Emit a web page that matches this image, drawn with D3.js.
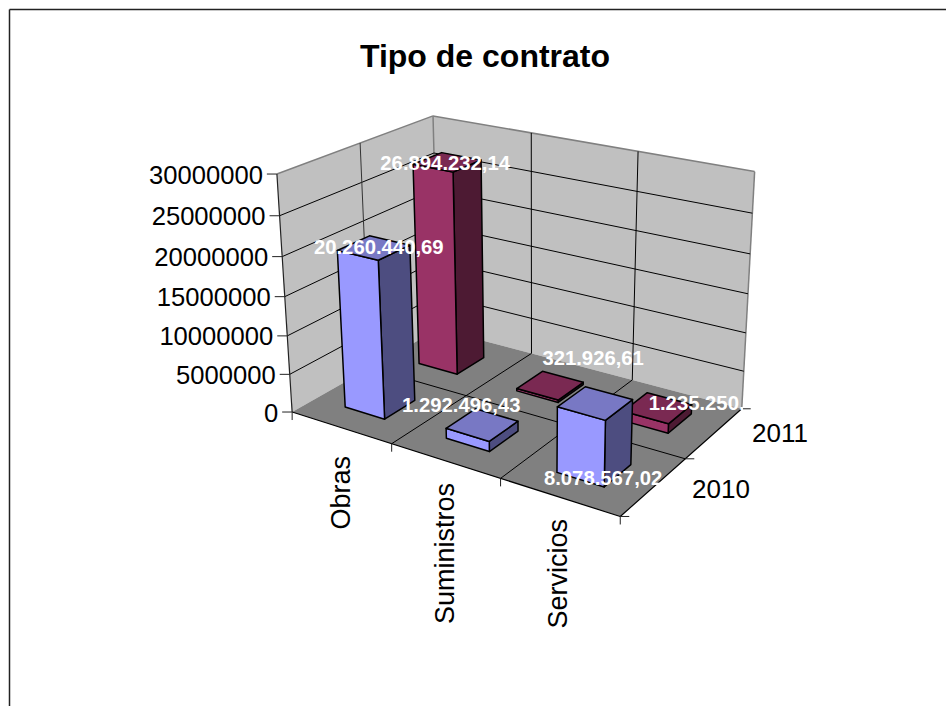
<!DOCTYPE html>
<html><head><meta charset="utf-8">
<script src="https://cdn.jsdelivr.net/npm/d3@7/dist/d3.min.js"></script>
<style>html,body{margin:0;padding:0;background:#fff}svg{display:block}text{font-family:"Liberation Sans",Arial,sans-serif}</style>
</head><body><svg id="c" width="946" height="706"></svg>
<script>
const categories = ["Obras","Suministros","Servicios"];
const years = ["2010","2011"];
const values2010 = [20260440.69, 1292496.43, 8078567.02];
const values2011 = [26894232.14, 321926.61, 1235250];
const labels2010 = ["20.260.440,69","1.292.496,43","8.078.567,02"];
const labels2011 = ["26.894.232,14","321.926,61","1.235.250,"];
const yTicks = [0,5000000,10000000,15000000,20000000,25000000,30000000];

// label shift from bar-top centre, in pixels
const labelDx2010 = [5,-21,8], labelDy2010 = [-1,-20,75];
const labelDx2011 = [-2,43,39], labelDy2011 = [1,-27,-5];

const colors2010 = {front:"#9999FF", top:"#7878C4", side:"#4D4D80"};
const colors2011 = {front:"#993366", top:"#7A2952", side:"#4D1A33"};

const svg = d3.select("#c");
const band = d3.scaleBand().domain(categories).range([0,1]).paddingInner(0.6).paddingOuter(0.3);
const depth = d3.scaleBand().domain(years).range([0,1]).paddingInner(0.6).paddingOuter(0.3);
const yS = d3.scaleLinear().domain([0,30000000]).range([0,1]);

// camera: least-squares fit of the projective map from the plot box to the page
const anchors = [
 [0,0,0,293,412],[1,0,0,619,516],[1,1,0,740,409],[0,1,0,438,329],
 [0,0,1,277,174],[0,1,1,433,115],[1,1,1,755,172],
 [1/3,0,0,392,445],[2/3,0,0,498,478],[1,.5,0,690,458],
 [1/3,1,1,532,133],[2/3,1,1,637,152],[0,.5,1,360,143]
];
function fit(){
  const rows=[],rhs=[];
  anchors.forEach(([u,v,h,x,y])=>{
    const X=x/1000,Y=y/1000;
    rows.push([u,v,h,1,0,0,0,0,-X*u,-X*v,-X*h]);rhs.push(X);
    rows.push([0,0,0,0,u,v,h,1,-Y*u,-Y*v,-Y*h]);rhs.push(Y);
  });
  const n=11,A=d3.range(n).map(i=>d3.range(n+1).map(j=>{
    let s=0;rows.forEach((r,k)=>{s+=r[i]*(j<n?r[j]:rhs[k]);});return s;}));
  for(let i=0;i<n;i++){
    let p=i;for(let k=i+1;k<n;k++)if(Math.abs(A[k][i])>Math.abs(A[p][i]))p=k;
    [A[i],A[p]]=[A[p],A[i]];
    for(let k=0;k<n;k++){if(k===i)continue;const f=A[k][i]/A[i][i];
      for(let j=i;j<=n;j++)A[k][j]-=f*A[i][j];}
  }
  return A.map((r,i)=>r[n]/r[i]);
}
const M=fit();
function P(u,v,h){
  const w=M[8]*u+M[9]*v+M[10]*h+1;
  return [1000*(M[0]*u+M[1]*v+M[2]*h+M[3])/w,1000*(M[4]*u+M[5]*v+M[6]*h+M[7])/w];
}
const line=d3.line();
const poly=(pts,fill,stroke,sw)=>svg.append("path").attr("d",line(pts)+"Z").attr("fill",fill)
  .attr("stroke",stroke||"none").attr("stroke-width",sw||0).attr("stroke-linejoin","round");
const seg=(a,b,stroke,sw)=>svg.append("path").attr("d",line([a,b])).attr("fill","none").attr("stroke",stroke).attr("stroke-width",sw);

// page frame (top and left only)
seg([9.5,9.5],[946,9.5],"#222",1.5);
seg([9.5,9.5],[9.5,706],"#222",1.5);

svg.append("text").attr("x",485).attr("y",67).attr("text-anchor","middle")
  .attr("font-size",32).attr("font-weight","bold").attr("fill","#000").text("Tipo de contrato");

// walls and floor
poly([P(0,0,0),P(0,1,0),P(0,1,1),P(0,0,1)],"#C0C0C0");
poly([P(0,1,0),P(1,1,0),P(1,1,1),P(0,1,1)],"#C0C0C0");
poly([P(0,0,0),P(1,0,0),P(1,1,0),P(0,1,0)],"#808080");
// wall outlines
seg(P(0,0,1),P(0,1,1),"#808080",1.5);
seg(P(0,1,1),P(1,1,1),"#808080",1.5);
seg(P(1,1,1),P(1,1,0),"#808080",1.5);
seg(P(0,1,1),P(0,1,0),"#808080",1.5);
// gridlines
yTicks.slice(1,-1).forEach(t=>{const h=yS(t);
  seg(P(0,0,h),P(0,1,h),"#000",1);seg(P(0,1,h),P(1,1,h),"#000",1);
});
[1,2].forEach(i=>{const u=i/3;
  seg(P(u,0,0),P(u,1,0),"#000",1);seg(P(u,1,0),P(u,1,1),"#000",1);
});
seg(P(0,.5,0),P(1,.5,0),"#000",1);
seg(P(0,.5,0),P(0,.5,1),"#333",1);
// axes
seg(P(0,0,0),P(0,0,1),"#222",1.2);
seg(P(0,0,0),P(1,0,0),"#000",1.2);
seg(P(1,0,0),P(1,1,0),"#000",1.2);
// ticks
yTicks.forEach(t=>{const p=P(0,0,yS(t));
  seg([p[0]-10,p[1]],p,"#222",1);
  svg.append("text").attr("x",p[0]-14).attr("y",p[1]+9.5).attr("text-anchor","end")
    .attr("font-size",25.6).attr("fill","#000").text(t);
});
[0,1,2,3].forEach(i=>{const p=P(i/3,0,0);seg(p,[p[0],p[1]+8],"#222",1);});
[0,1,2].forEach(i=>{const p=P(1,i/2,0);seg(p,[p[0]+9,p[1]],"#222",1);});
// category labels
const catX=[350,454,567],catTop=[456,483,519];
categories.forEach((c,i)=>{
  svg.append("text").attr("transform",`translate(${catX[i]},${catTop[i]}) rotate(-90)`)
   .attr("text-anchor","end").attr("font-size",27).attr("fill","#000").text(c);
});
// depth labels
const yrX=[692,752],yrY=[498,442];
years.forEach((y,i)=>svg.append("text").attr("x",yrX[i]).attr("y",yrY[i]).attr("font-size",26).attr("fill","#000").text(y));

// bars, back to front
const series=[
 {year:"2011",values:values2011,labels:labels2011,dx:labelDx2011,dy:labelDy2011,col:colors2011},
 {year:"2010",values:values2010,labels:labels2010,dx:labelDx2010,dy:labelDy2010,col:colors2010}
];
const pending=[];
series.forEach(s=>{
  const v0=depth(s.year),v1=v0+depth.bandwidth();
  categories.forEach((c,i)=>{
    const u0=band(c),u1=u0+band.bandwidth(),h=yS(s.values[i]);
    poly([P(u1,v0,0),P(u1,v1,0),P(u1,v1,h),P(u1,v0,h)],s.col.side,"#000",1.5);
    poly([P(u0,v0,0),P(u1,v0,0),P(u1,v0,h),P(u0,v0,h)],s.col.front,"#000",1.5);
    poly([P(u0,v0,h),P(u1,v0,h),P(u1,v1,h),P(u0,v1,h)],s.col.top,"#000",1.5);
    const ct=P((u0+u1)/2,(v0+v1)/2,h);
    pending.push({x:ct[0]+s.dx[i],y:ct[1]+s.dy[i],t:s.labels[i]});
  });
});
svg.append("defs").append("clipPath").attr("id","lc").append("rect").attr("x",0).attr("y",0).attr("width",743).attr("height",706);
pending.forEach(l=>svg.append("text").attr("x",l.x).attr("y",l.y+7).attr("text-anchor","middle")
  .attr("clip-path","url(#lc)").attr("font-size",20.3).attr("font-weight","bold").attr("fill","#fff").text(l.t));
</script></body></html>
